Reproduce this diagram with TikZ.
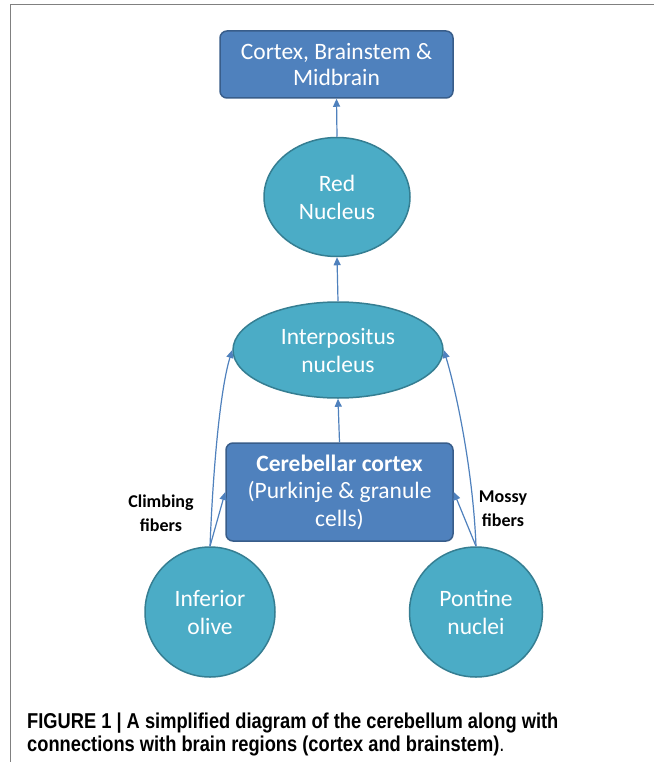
\documentclass[tikz,border=0pt]{standalone}
\usepackage{fontspec}
\setmainfont{Carlito}
\newfontfamily\capfont[FakeStretch=0.85]{Liberation Sans}
\usetikzlibrary{arrows.meta,shapes.geometric}
\definecolor{boxblue}{RGB}{79,129,189}
\definecolor{boxedge}{RGB}{56,93,138}
\definecolor{aqua}{RGB}{75,172,198}
\definecolor{aquaedge}{RGB}{53,126,146}
\definecolor{arrowblue}{RGB}{79,129,189}
\begin{document}
\begin{tikzpicture}[x=1pt,y=1pt,
 rbox/.style={draw=boxedge, line width=1.5pt, fill=boxblue, rounded corners=7pt, text=white, align=center, font=\fontsize{23.5}{26}\selectfont, inner sep=0pt},
 oval/.style={ellipse, draw=aquaedge, line width=1.5pt, fill=aqua, text=white, align=center, font=\fontsize{23.5}{28}\selectfont, inner sep=0pt},
 conn/.style={draw=arrowblue, line width=1.2pt, -{Triangle[length=8pt,width=7pt]}},
 lab/.style={font=\bfseries\fontsize{18}{24}\selectfont, align=center}]
\useasboundingbox (0,0) rectangle (654,-762);
\fill[white] (0,0) rectangle (654,-762);
\draw[gray, line width=1pt] (10,-762) -- (10,-5) -- (654,-5);
\node[rbox, minimum width=233pt, minimum height=67pt] (top) at (336.5,-64.5) {Cortex, Brainstem \&\\Midbrain};
\node[oval, minimum width=146pt, minimum height=119pt] (red) at (337,-197) {Red\\Nucleus};
\node[oval, minimum width=210pt, minimum height=96pt] (int) at (338,-350) {Interpositus\\nucleus};
\node[rbox, minimum width=227pt, minimum height=98pt, font=\fontsize{23.5}{27.5}\selectfont] (cer) at (339.5,-492) {\textbf{Cerebellar cortex}\\(Purkinje \& granule\\cells)};
\node[oval, minimum width=130pt, minimum height=130pt] (io) at (210,-612) {Inferior\\olive};
\node[oval, minimum width=133pt, minimum height=130pt] (pn) at (476,-612) {Pontine\\nuclei};
\draw[conn] (red.north) -- (top.south);
\draw[conn] (int.north) -- (red.south);
\draw[conn] (cer.north) -- (int.south);
\draw[conn] (io.north) -- (cer.west);
\draw[conn] (pn.north) -- (cer.east);
\draw[conn] (io.north) .. controls (213,-470) and (220,-390) .. (int.west);
\draw[conn] (pn.north) .. controls (473,-470) and (456,-390) .. (int.east);
\node[lab] (cl) at (161,-513) {Climbing\\fibers};
\node[lab] (mo) at (503,-509) {Mossy\\fibers};
\node[anchor=base west, font=\capfont\bfseries\fontsize{21.5}{22.5}\selectfont, align=left, inner sep=0pt] (cap) at (27,-751) {FIGURE 1 | A simplified diagram of the cerebellum along with\\connections with brain regions (cortex and brainstem)\textmd{.}};
\end{tikzpicture}
\end{document}
